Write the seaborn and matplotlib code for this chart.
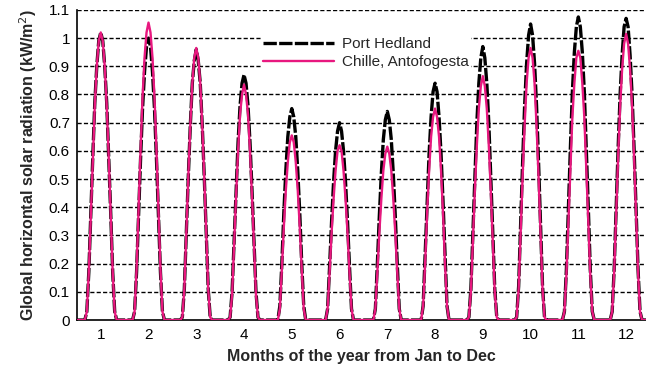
import matplotlib
matplotlib.use("Agg")
import matplotlib.pyplot as plt
import pandas as pd
import seaborn as sns

months = list(range(1, 13))
month_labels = [str(m) for m in months]
hours = [0, 4, 5, 6, 7, 8, 9, 10, 11, 12, 13, 14, 15, 16, 17, 18, 19, 20, 23]

port_hedland = [
    [0, 0, 0.03, 0.17, 0.38, 0.58, 0.77, 0.90, 0.99, 1.02, 0.99, 0.90, 0.77, 0.58, 0.38, 0.17, 0.03, 0, 0],
    [0, 0, 0.03, 0.17, 0.37, 0.57, 0.75, 0.88, 0.97, 1.00, 0.97, 0.88, 0.75, 0.57, 0.37, 0.17, 0.03, 0, 0],
    [0, 0, 0.01, 0.11, 0.31, 0.51, 0.69, 0.84, 0.92, 0.96, 0.92, 0.84, 0.69, 0.51, 0.31, 0.11, 0.01, 0, 0],
    [0, 0, 0.01, 0.10, 0.28, 0.46, 0.63, 0.76, 0.84, 0.87, 0.84, 0.76, 0.63, 0.46, 0.28, 0.10, 0.01, 0, 0],
    [0, 0, 0.00, 0.05, 0.20, 0.38, 0.53, 0.65, 0.72, 0.75, 0.72, 0.65, 0.53, 0.38, 0.20, 0.05, 0.00, 0, 0],
    [0, 0, 0.00, 0.04, 0.19, 0.35, 0.49, 0.60, 0.67, 0.70, 0.67, 0.60, 0.49, 0.35, 0.19, 0.04, 0.00, 0, 0],
    [0, 0, 0.00, 0.04, 0.20, 0.37, 0.52, 0.64, 0.71, 0.74, 0.71, 0.64, 0.52, 0.37, 0.20, 0.04, 0.00, 0, 0],
    [0, 0, 0.00, 0.05, 0.23, 0.42, 0.59, 0.72, 0.81, 0.84, 0.81, 0.72, 0.59, 0.42, 0.23, 0.05, 0.00, 0, 0],
    [0, 0, 0.01, 0.11, 0.31, 0.51, 0.70, 0.84, 0.93, 0.97, 0.93, 0.84, 0.70, 0.51, 0.31, 0.11, 0.01, 0, 0],
    [0, 0, 0.01, 0.12, 0.34, 0.56, 0.76, 0.91, 1.01, 1.05, 1.01, 0.91, 0.76, 0.56, 0.34, 0.12, 0.01, 0, 0],
    [0, 0, 0.03, 0.18, 0.40, 0.61, 0.81, 0.95, 1.04, 1.075, 1.04, 0.95, 0.81, 0.61, 0.40, 0.18, 0.03, 0, 0],
    [0, 0, 0.03, 0.18, 0.40, 0.61, 0.80, 0.94, 1.04, 1.07, 1.04, 0.94, 0.80, 0.61, 0.40, 0.18, 0.03, 0, 0],
]

chile_antofogesta = [
    [0, 0, 0.03, 0.17, 0.37, 0.58, 0.76, 0.90, 0.99, 1.02, 0.99, 0.90, 0.76, 0.58, 0.37, 0.17, 0.03, 0, 0],
    [0, 0, 0.03, 0.18, 0.39, 0.60, 0.79, 0.93, 1.02, 1.055, 1.02, 0.93, 0.79, 0.60, 0.39, 0.18, 0.03, 0, 0],
    [0, 0, 0.01, 0.11, 0.31, 0.51, 0.69, 0.84, 0.93, 0.965, 0.93, 0.84, 0.69, 0.51, 0.31, 0.11, 0.01, 0, 0],
    [0, 0, 0.01, 0.09, 0.27, 0.44, 0.60, 0.73, 0.80, 0.835, 0.80, 0.73, 0.60, 0.44, 0.27, 0.09, 0.01, 0, 0],
    [0, 0, 0.00, 0.04, 0.18, 0.33, 0.46, 0.56, 0.63, 0.655, 0.63, 0.56, 0.46, 0.33, 0.18, 0.04, 0.00, 0, 0],
    [0, 0, 0.00, 0.04, 0.17, 0.31, 0.43, 0.53, 0.60, 0.62, 0.60, 0.53, 0.43, 0.31, 0.17, 0.04, 0.00, 0, 0],
    [0, 0, 0.00, 0.04, 0.17, 0.31, 0.43, 0.53, 0.59, 0.615, 0.59, 0.53, 0.43, 0.31, 0.17, 0.04, 0.00, 0, 0],
    [0, 0, 0.00, 0.05, 0.20, 0.38, 0.53, 0.65, 0.72, 0.75, 0.72, 0.65, 0.53, 0.38, 0.20, 0.05, 0.00, 0, 0],
    [0, 0, 0.01, 0.10, 0.28, 0.46, 0.62, 0.75, 0.83, 0.865, 0.83, 0.75, 0.62, 0.46, 0.28, 0.10, 0.01, 0, 0],
    [0, 0, 0.01, 0.11, 0.31, 0.51, 0.69, 0.84, 0.93, 0.965, 0.93, 0.84, 0.69, 0.51, 0.31, 0.11, 0.01, 0, 0],
    [0, 0, 0.03, 0.16, 0.35, 0.54, 0.72, 0.84, 0.93, 0.955, 0.93, 0.84, 0.72, 0.54, 0.35, 0.16, 0.03, 0, 0],
    [0, 0, 0.03, 0.17, 0.38, 0.58, 0.76, 0.89, 0.98, 1.015, 0.98, 0.89, 0.76, 0.58, 0.38, 0.17, 0.03, 0, 0],
]

site_names = ["Port Hedland", "Chille, Antofogesta"]
y_ticks = [0, 0.1, 0.2, 0.3, 0.4, 0.5, 0.6, 0.7, 0.8, 0.9, 1.0, 1.1]
y_tick_labels = ["0", "0.1", "0.2", "0.3", "0.4", "0.5", "0.6", "0.7", "0.8", "0.9", "1", "1.1"]

rows = []
for site, series in zip(site_names, [port_hedland, chile_antofogesta]):
    for m, day in zip(months, series):
        for h, v in zip(hours, day):
            rows.append({"site": site, "t": (m - 1) * 24 + h, "value": v})
df = pd.DataFrame(rows)

sns.set_theme(style="white")
plt.rcParams["font.family"] = ["Liberation Sans", "DejaVu Sans"]

fig = plt.figure(figsize=(6.46, 3.67), dpi=100)
ax = fig.add_axes([0.119, 0.128, 0.881, 0.845])

for y in y_ticks[1:]:
    ax.axhline(y, color="black", lw=1.0, linestyle=(0, (3, 1.6)), zorder=1)

sns.lineplot(data=df[df.site == site_names[0]], x="t", y="value", ax=ax,
             color="black", lw=2.4, estimator=None, sort=False,
             label=site_names[0], zorder=3)
ax.lines[-1].set_linestyle((0, (4, 0.7)))
sns.lineplot(data=df[df.site == site_names[1]], x="t", y="value", ax=ax,
             color="#E8187F", lw=1.7, estimator=None, sort=False,
             label=site_names[1], zorder=4)

ax.set_xlim(0, 286)
ax.set_ylim(0, 1.1)
ax.set_xticks([(m - 1) * 24 + 12 for m in months])
ax.set_xticklabels(month_labels)
ax.set_yticks(y_ticks)
ax.set_yticklabels(y_tick_labels)
ax.tick_params(axis="both", length=0, labelsize=11, colors="black")
ax.tick_params(axis="x", pad=6)
ax.tick_params(axis="y", pad=5)

for side in ["top", "right"]:
    ax.spines[side].set_visible(False)
for side in ["left", "bottom"]:
    ax.spines[side].set_color("black")
    ax.spines[side].set_linewidth(1.2)

ax.set_xlabel("Months of the year from Jan to Dec", fontsize=11.5, fontweight="bold", labelpad=5)
ax.set_ylabel("Global horizontal solar radiation (kW/m$^2$)", fontsize=11.5, fontweight="bold", labelpad=7)

leg = ax.legend(loc="upper left", bbox_to_anchor=(0.31, 0.945), frameon=True,
                fontsize=11, handlelength=4.6, handletextpad=0.55,
                borderpad=0.15, labelspacing=0.3, fancybox=False)
leg.get_frame().set_facecolor("white")
leg.get_frame().set_edgecolor("none")
leg.get_frame().set_alpha(1.0)

fig.savefig("out.png", dpi=100)
